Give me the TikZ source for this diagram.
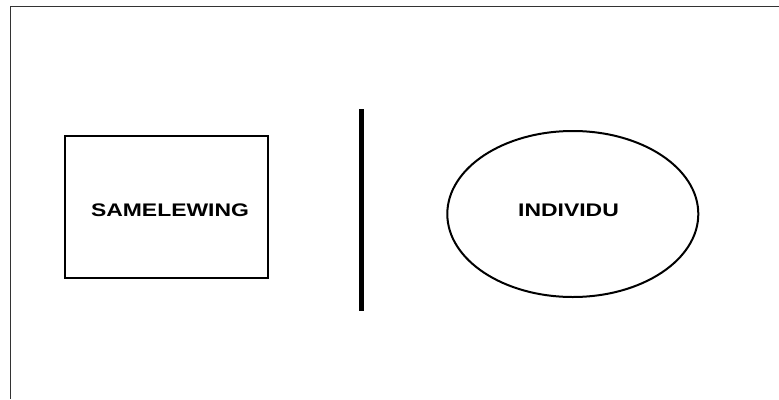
\documentclass[tikz,border=0pt]{standalone}
\usepackage{fontspec}
\setmainfont{Liberation Sans}
\newfontfamily\lblfont[FakeStretch=1.26]{Liberation Sans}
\usetikzlibrary{shapes.geometric}
\begin{document}
\begin{tikzpicture}[x=1pt,y=-1pt,
  lbl/.style={font=\lblfont\bfseries\fontsize{18.2pt}{20pt}\selectfont, text=black},
  framebox/.style={draw=black, line width=1.5pt, minimum width=203pt, minimum height=142pt, inner sep=0pt},
  oval/.style={draw=black, line width=2pt, ellipse, minimum width=251pt, minimum height=166pt, inner sep=0pt},
  divider/.style={draw=black, line width=5pt},
  border/.style={draw=black!80, line width=1.5pt}]
\useasboundingbox (0,0) rectangle (779,399);
\coordinate (tl) at (10.5,6.5);
\coordinate (tr) at (779,6.5);
\coordinate (bl) at (10.5,399);
\draw[border] (tr) -- (tl) -- (bl);
\node[framebox] (s) at (166.5,207) {};
\node[lbl] (st) at (170,210) {SAMELEWING};
\node[oval] (i) at (572.8,214) {};
\node[lbl] (it) at (568.5,210) {INDIVIDU};
\coordinate (vt) at (361.7,109.3);
\coordinate (vb) at (361.7,310.7);
\draw[divider] (vt) -- (vb);
\end{tikzpicture}
\end{document}
